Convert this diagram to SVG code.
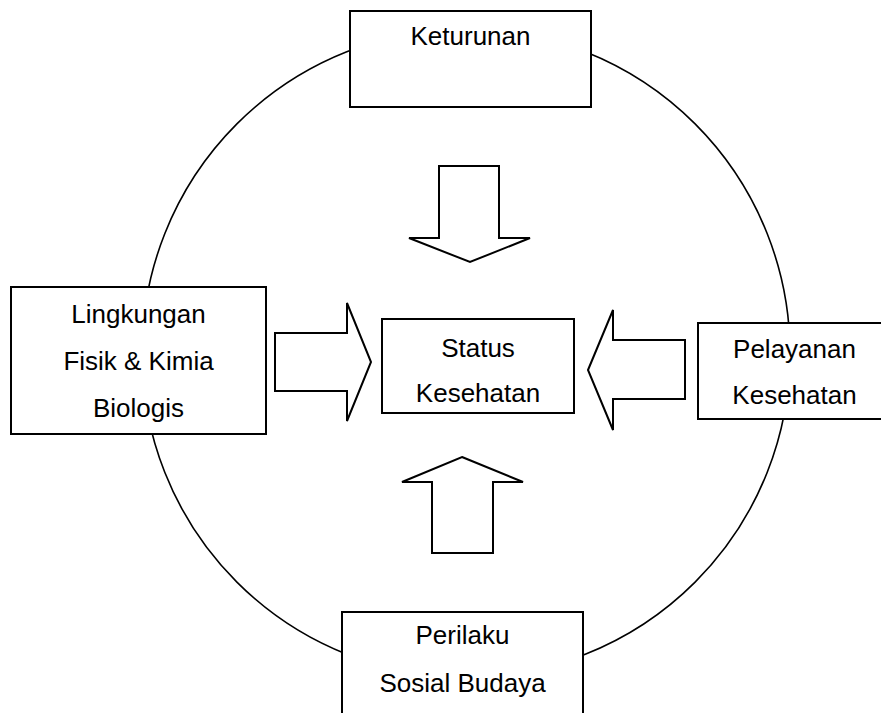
<svg xmlns="http://www.w3.org/2000/svg" width="881" height="713" viewBox="0 0 881 713">
<style>
.box{fill:#fff;stroke:#000;stroke-width:2}
.arr{fill:#fff;stroke:#000;stroke-width:2;stroke-linejoin:miter}
.ring{fill:none;stroke:#000;stroke-width:1.6}
text{font-family:"Liberation Sans",Arial,sans-serif;font-size:26px;fill:#000;text-anchor:middle}
</style>
<rect width="881" height="713" fill="#fff"/>
<g id="connectors">
<circle class="ring" cx="466" cy="353" r="324"/>
<polygon class="arr" points="439,166 499,166 499,238 530,238 470,262 409,238 439,238"/>
<polygon class="arr" points="462,457 523,482 493,482 493,553 432,553 432,482 402,482"/>
<polygon class="arr" points="275,333 347,333 347,303 371,362 347,421 347,391 275,391"/>
<polygon class="arr" points="588,370 613,310 613,340 685,340 685,399 613,399 613,430"/>
</g>
<g id="keturunan">
<rect class="box" x="350" y="11" width="241" height="96"/>
<text x="470.5" y="45">Keturunan</text>
</g>
<g id="lingkungan">
<rect class="box" x="11" y="287" width="255" height="147"/>
<text x="138.5" y="323">Lingkungan</text>
<text x="138.5" y="370">Fisik &amp; Kimia</text>
<text x="138.5" y="417">Biologis</text>
</g>
<g id="status">
<rect class="box" x="382" y="319" width="192" height="94"/>
<text x="478" y="357">Status</text>
<text x="478" y="402">Kesehatan</text>
</g>
<g id="pelayanan">
<rect class="box" x="698" y="323" width="193" height="96"/>
<text x="794.5" y="358">Pelayanan</text>
<text x="794.5" y="404">Kesehatan</text>
</g>
<g id="perilaku">
<rect class="box" x="342" y="612" width="241" height="110"/>
<text x="462.5" y="644">Perilaku</text>
<text x="462.5" y="692">Sosial Budaya</text>
</g>
</svg>
